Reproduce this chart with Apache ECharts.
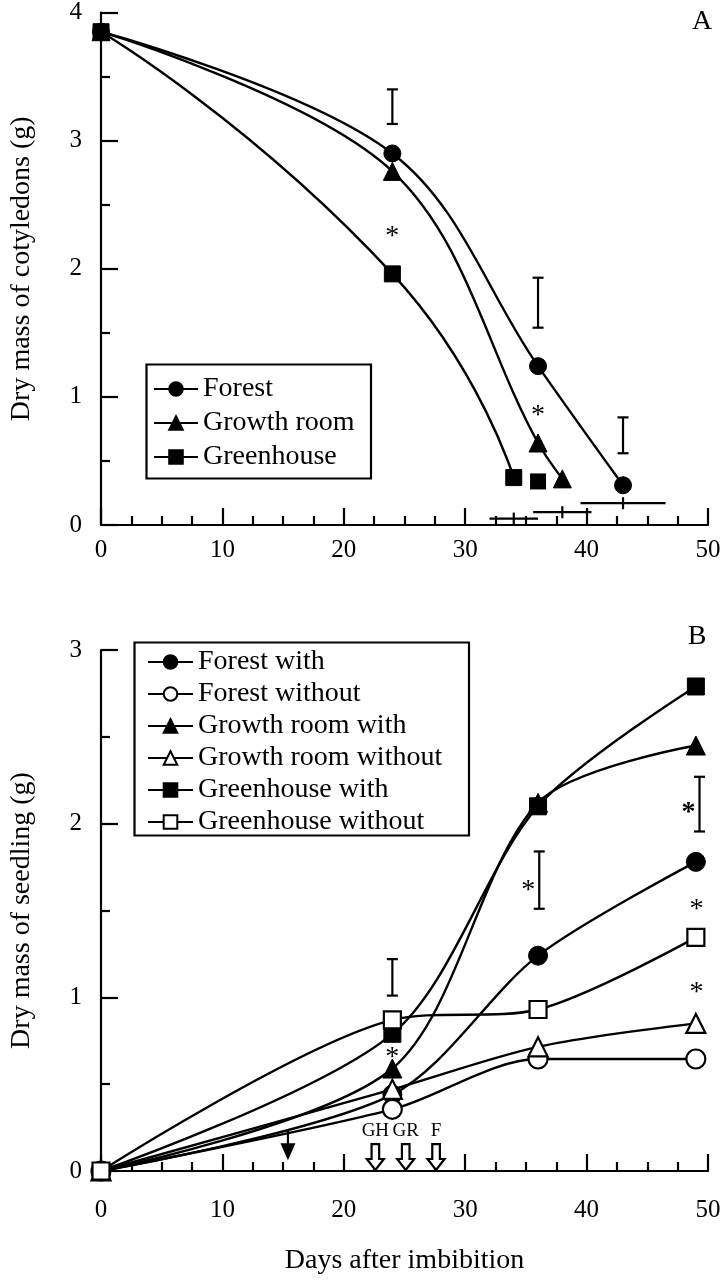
<!DOCTYPE html>
<html>
<head>
<meta charset="utf-8">
<script src="https://cdn.jsdelivr.net/npm/echarts@6/dist/echarts.min.js"></script>
<style>
html,body{margin:0;padding:0;background:#fff;}
#c{width:727px;height:1280px;}
</style>
</head>
<body>
<div id="c"></div>
<script>
// ---------- Panel A data: dry mass of cotyledons ----------
const forestA = [[0, 3.85], [24, 2.90], [36, 1.24], [43, 0.31]];
const growthA = [[0, 3.85], [24, 2.76], [36, 0.64], [38, 0.36]];
const greenA = [[0, 3.85], [24, 1.96], [34, 0.37]];
const greenExtraA = [[36, 0.34]];
const vErrA = [[24, 3.13, 3.40], [36, 1.54, 1.93], [43, 0.56, 0.84]];
const hErrA = [[34, 0.05, 32.0, 36.0], [38, 0.10, 35.6, 40.4], [43, 0.17, 39.5, 46.5]];
const starsA = [[24, 2.30], [36, 0.90]];

// ---------- Panel B data: dry mass of seedling ----------
const forestWith = [[0, 0], [24, 0.44], [36, 1.24], [49, 1.78]];
const forestWithout = [[0, 0], [24, 0.355], [36, 0.645], [49, 0.645]];
const growthWith = [[0, 0], [24, 0.59], [36, 2.12], [49, 2.45]];
const growthWithout = [[0, 0], [24, 0.47], [36, 0.715], [49, 0.85]];
const greenWith = [[0, 0], [24, 0.79], [36, 2.10], [49, 2.79]];
const greenWithout = [[0, 0], [24, 0.87], [36, 0.93], [49, 1.345]];
const vErrB = [[24, 1.01, 1.22], [36.1, 1.51, 1.84], [49.3, 1.955, 2.27]];
const starsB = [[24, 0.69, 0], [35.2, 1.65, 0], [48.4, 2.10, 1], [49.05, 1.54, 0], [49.05, 1.06, 0]];
const filledArrowB = [[15.4, 0.234, 0.062]];
const openArrowX = [22.6, 25.1, 27.6];
const openArrowLabels = ['GH', 'GR', 'F'];
const openArrowTop = 0.155, openArrowLabelY = 0.228;

const legendA = ['Forest', 'Growth room', 'Greenhouse'];
const legendB = ['Forest with', 'Forest without', 'Growth room with', 'Growth room without', 'Greenhouse with', 'Greenhouse without'];

const FONT = '"Liberation Serif", "Times New Roman", serif';
const BLK = '#000';

function axisX(gridIndex, labelMargin, name) {
  return {
    type: 'value', gridIndex: gridIndex, min: 0, max: 50, interval: 10,
    axisLine: {show: true, onZero: false, lineStyle: {color: BLK, width: 2.2}},
    axisTick: {show: true, inside: true, length: 17, lineStyle: {color: BLK, width: 2.2}},
    minorTick: {show: true, splitNumber: 4, length: 9, lineStyle: {color: BLK, width: 2.2}},
    axisLabel: {color: BLK, fontFamily: FONT, fontSize: 25, margin: labelMargin},
    splitLine: {show: false}, minorSplitLine: {show: false},
    name: name || '', nameLocation: 'middle', nameGap: 76,
    nameTextStyle: {color: BLK, fontFamily: FONT, fontSize: 28}
  };
}
function axisY(gridIndex, max, name) {
  return {
    type: 'value', gridIndex: gridIndex, min: 0, max: max, interval: 1,
    axisLine: {show: true, onZero: false, lineStyle: {color: BLK, width: 2.2}},
    axisTick: {show: true, inside: true, length: 17, lineStyle: {color: BLK, width: 2.2}},
    minorTick: {show: true, splitNumber: 2, length: 9, lineStyle: {color: BLK, width: 2.2}},
    axisLabel: {color: BLK, fontFamily: FONT, fontSize: 25, margin: 19},
    splitLine: {show: false}, minorSplitLine: {show: false},
    name: name, nameLocation: 'middle', nameGap: 65, nameRotate: 90,
    nameTextStyle: {color: BLK, fontFamily: FONT, fontSize: 28}
  };
}

function lineSeries(name, data, symbol, size, filled, xi, smooth) {
  return {
    type: 'line', name: name, data: data, xAxisIndex: xi, yAxisIndex: xi,
    smooth: smooth, symbol: symbol, symbolSize: size, showSymbol: true, showAllSymbol: true,
    lineStyle: {color: BLK, width: 2.4},
    itemStyle: filled ? {color: BLK, borderColor: BLK, borderWidth: 1, opacity: 1}
                      : {color: '#fff', borderColor: BLK, borderWidth: 2.2, opacity: 1},
    emphasis: {disabled: true}
  };
}

function vErrRender(params, api) {
  const x = api.value(0), lo = api.value(1), hi = api.value(2);
  const a = api.coord([x, lo]), b = api.coord([x, hi]);
  const w = 5.5, st = {stroke: BLK, lineWidth: 2.2};
  return {type: 'group', children: [
    {type: 'line', shape: {x1: a[0], y1: a[1], x2: b[0], y2: b[1]}, style: st},
    {type: 'line', shape: {x1: a[0] - w, y1: a[1], x2: a[0] + w, y2: a[1]}, style: st},
    {type: 'line', shape: {x1: b[0] - w, y1: b[1], x2: b[0] + w, y2: b[1]}, style: st}
  ]};
}
function hErrRender(params, api) {
  const c = api.value(0), y = api.value(1), lo = api.value(2), hi = api.value(3);
  const a = api.coord([lo, y]), b = api.coord([hi, y]), m = api.coord([c, y]);
  const st = {stroke: BLK, lineWidth: 2.2};
  return {type: 'group', children: [
    {type: 'line', shape: {x1: a[0], y1: a[1], x2: b[0], y2: b[1]}, style: st},
    {type: 'line', shape: {x1: m[0], y1: m[1] - 6, x2: m[0], y2: m[1] + 6}, style: st}
  ]};
}
function starRender(params, api) {
  const p = api.coord([api.value(0), api.value(1)]);
  const bold = api.value(2) === 1;
  return {type: 'text', x: p[0], y: p[1] + 6,
    style: {text: '*', fontFamily: FONT, fontSize: 28, fontWeight: bold ? 'bold' : 'normal',
            fill: BLK, align: 'center', verticalAlign: 'middle'}};
}
function filledArrowRender(params, api) {
  const x = api.value(0);
  const t = api.coord([x, api.value(1)]), b = api.coord([x, api.value(2)]);
  const hh = 17, hw = 7.5;
  return {type: 'group', children: [
    {type: 'line', shape: {x1: t[0], y1: t[1], x2: t[0], y2: b[1] - hh + 2}, style: {stroke: BLK, lineWidth: 2.2}},
    {type: 'polygon', shape: {points: [[b[0] - hw, b[1] - hh], [b[0] + hw, b[1] - hh], [b[0], b[1]]]}, style: {fill: BLK}}
  ]};
}
function openArrowRender(params, api) {
  const x = api.value(0);
  const t = api.coord([x, openArrowTop]), b = api.coord([x, 0]);
  const label = openArrowLabels[params.dataIndex];
  const lp = api.coord([x, openArrowLabelY]);
  const sw = 3.8, hw = 8.5, hh = 12, cx = t[0];
  const pts = [[cx - sw, t[1]], [cx + sw, t[1]], [cx + sw, b[1] - hh], [cx + hw, b[1] - hh],
               [cx, b[1] - 1], [cx - hw, b[1] - hh], [cx - sw, b[1] - hh]];
  return {type: 'group', children: [
    {type: 'polygon', shape: {points: pts}, style: {fill: '#fff', stroke: BLK, lineWidth: 2.2}},
    {type: 'text', x: lp[0], y: lp[1],
     style: {text: label, fontFamily: FONT, fontSize: 19, fill: BLK, align: 'center', verticalAlign: 'middle'}}
  ]};
}

const chart = echarts.init(document.getElementById('c'), null, {renderer: 'canvas'});
chart.setOption({
  animation: false,
  backgroundColor: '#fff',
  grid: [
    {left: 97, right: 19, top: 7, bottom: 755, containLabel: false},
    {left: 100, right: 19, top: 650, bottom: 109, containLabel: false}
  ],
  xAxis: [axisX(0, 13, ''), axisX(1, 27, 'Days after imbibition')],
  yAxis: [axisY(0, 4, 'Dry mass of cotyledons (g)'), axisY(1, 3, 'Dry mass of seedling (g)')],
  legend: [
    {data: legendA, orient: 'vertical', left: 153, top: 375, padding: 0, itemGap: 6,
     itemWidth: 44, itemHeight: 17, textStyle: {color: BLK, fontFamily: FONT, fontSize: 28, lineHeight: 28},
     selectedMode: false, z: 10},
    {data: legendB, orient: 'vertical', left: 147, top: 648, padding: 0, itemGap: 4,
     itemWidth: 45, itemHeight: 17, textStyle: {color: BLK, fontFamily: FONT, fontSize: 28, lineHeight: 28},
     selectedMode: false, z: 10}
  ],
  graphic: [
    {type: 'rect', shape: {x: 146.5, y: 364.5, width: 224.5, height: 114}, style: {fill: '#fff', stroke: BLK, lineWidth: 2.2}, z: 5},
    {type: 'rect', shape: {x: 134.5, y: 642.5, width: 334.5, height: 193}, style: {fill: '#fff', stroke: BLK, lineWidth: 2.2}, z: 5},
    {type: 'text', x: 702, y: 22, style: {text: 'A', fontFamily: FONT, fontSize: 28, fill: BLK, align: 'center', verticalAlign: 'middle'}, z: 5},
    {type: 'text', x: 697, y: 637, style: {text: 'B', fontFamily: FONT, fontSize: 28, fill: BLK, align: 'center', verticalAlign: 'middle'}, z: 5}
  ],
  series: [
    lineSeries('Forest', forestA, 'circle', 17, true, 0, 0.35),
    lineSeries('Growth room', growthA, 'triangle', 18, true, 0, 0.35),
    lineSeries('Greenhouse', greenA, 'rect', 16, true, 0, 0.55),
    {type: 'scatter', name: 'Greenhouse (unlinked)', data: greenExtraA, xAxisIndex: 0, yAxisIndex: 0,
     symbol: 'rect', symbolSize: 16, itemStyle: {color: BLK, opacity: 1}, emphasis: {disabled: true}},
    {type: 'custom', name: 'errA', data: vErrA, xAxisIndex: 0, yAxisIndex: 0, renderItem: vErrRender, silent: true},
    {type: 'custom', name: 'hErrA', data: hErrA, xAxisIndex: 0, yAxisIndex: 0, renderItem: hErrRender, silent: true},
    {type: 'custom', name: 'starsA', data: starsA, xAxisIndex: 0, yAxisIndex: 0, renderItem: starRender, silent: true},

    lineSeries('Forest with', forestWith, 'circle', 19, true, 1, 0.3),
    lineSeries('Forest without', forestWithout, 'circle', 19, false, 1, 0.3),
    lineSeries('Growth room with', growthWith, 'triangle', 19, true, 1, 0.3),
    lineSeries('Growth room without', growthWithout, 'triangle', 19, false, 1, 0.3),
    lineSeries('Greenhouse with', greenWith, 'rect', 17, true, 1, 0.3),
    lineSeries('Greenhouse without', greenWithout, 'rect', 17, false, 1, 0.3),
    {type: 'custom', name: 'errB', data: vErrB, xAxisIndex: 1, yAxisIndex: 1, renderItem: vErrRender, silent: true},
    {type: 'custom', name: 'starsB', data: starsB, xAxisIndex: 1, yAxisIndex: 1, renderItem: starRender, silent: true},
    {type: 'custom', name: 'arrowB', data: filledArrowB, xAxisIndex: 1, yAxisIndex: 1, renderItem: filledArrowRender, silent: true},
    {type: 'custom', name: 'openArrows', data: openArrowX.map(function (v) { return [v]; }), xAxisIndex: 1, yAxisIndex: 1,
     dimensions: ['x'], renderItem: openArrowRender, silent: true}
  ]
});
</script>
</body>
</html>
